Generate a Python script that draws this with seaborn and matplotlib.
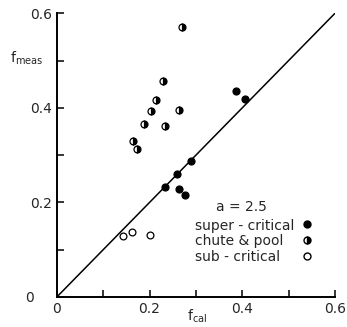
import matplotlib
matplotlib.use("Agg")
import matplotlib.pyplot as plt
from matplotlib.lines import Line2D
import pandas as pd
import seaborn as sns

# values
super_x = [0.387, 0.405, 0.289, 0.260, 0.234, 0.263, 0.276]
super_y = [0.436, 0.419, 0.287, 0.261, 0.232, 0.228, 0.215]
chute_x = [0.269, 0.230, 0.213, 0.203, 0.264, 0.188, 0.233, 0.165, 0.172]
chute_y = [0.571, 0.456, 0.417, 0.393, 0.396, 0.367, 0.361, 0.331, 0.313]
sub_x = [0.143, 0.163, 0.202]
sub_y = [0.128, 0.137, 0.130]
line_xy = [0.0, 0.6]
tick_vals = [0.0, 0.1, 0.2, 0.3, 0.4, 0.5, 0.6]
xtick_labels = ["0", "", "0.2", "", "0.4", "", "0.6"]
ytick_labels = ["0    ", "", "0.2", "", "0.4", "", "0.6"]
labels = ["super - critical", "chute & pool", "sub - critical"]

sns.set_style("ticks")
plt.rcParams["font.family"] = ["DejaVu Sans"]

W, H = 347, 327
fig = plt.figure(figsize=(W / 100, H / 100), dpi=100)
ax = fig.add_axes([0.164, 0.092, 0.801, 0.867])

sup = pd.DataFrame({"x": super_x, "y": super_y})
sub = pd.DataFrame({"x": sub_x, "y": sub_y})

ax.plot(line_xy, line_xy, color="black", lw=1.1)
sns.scatterplot(data=sup, x="x", y="y", ax=ax, color="black", s=26,
                edgecolor="black", linewidth=0.8, legend=False, zorder=3)
sns.scatterplot(data=sub, x="x", y="y", ax=ax, color="white", s=24,
                edgecolor="black", linewidth=0.9, legend=False, zorder=3)
ax.plot(chute_x, chute_y, linestyle="none", marker="o", markersize=5,
        fillstyle="right", markerfacecolor="black", markerfacecoloralt="white",
        markeredgecolor="black", markeredgewidth=0.9, zorder=3)

ax.set_xlim(0, 0.6)
ax.set_ylim(0, 0.6)
ax.set_xticks(tick_vals)
ax.set_xticklabels(xtick_labels)
ax.set_yticks(tick_vals)
ax.set_yticklabels(ytick_labels)
ax.tick_params(direction="in", length=5, width=1.1, labelsize=10, color="black")
ax.tick_params(axis="x", pad=4)
for s in ["top", "right"]:
    ax.spines[s].set_visible(False)
for s in ["left", "bottom"]:
    ax.spines[s].set_linewidth(1.4)
    ax.spines[s].set_color("black")

ax.set_xlabel("")
ax.set_ylabel("")
fig.text(197 / W, 1 - 316 / H, "f$_{\\mathrm{cal}}$", ha="center", va="center", fontsize=10)
fig.text(27 / W, 1 - 58 / H, "f$_{\\mathrm{meas}}$", ha="center", va="center", fontsize=10)

# legend: title and labels left aligned, markers in their own column
fig.text(241 / W, 1 - 207 / H, "a = 2.5", ha="center", va="center", fontsize=10)
row_y = [226, 241, 257]
for lab, yy in zip(labels, row_y):
    fig.text(195 / W, 1 - yy / H, lab, ha="left", va="center", fontsize=10)

handles = [
    Line2D([], [], linestyle="none", marker="o", markersize=5, color="black"),
    Line2D([], [], linestyle="none", marker="o", markersize=5, fillstyle="right",
           markerfacecolor="black", markerfacecoloralt="white", markeredgecolor="black"),
    Line2D([], [], linestyle="none", marker="o", markersize=5, markerfacecolor="white",
           markeredgecolor="black"),
]
leg = fig.legend(handles, ["", "", ""], frameon=False, fontsize=10, loc="center",
                 bbox_to_anchor=(307 / W, 1 - 241 / H), handlelength=1.0,
                 handletextpad=0.0, labelspacing=0.12, borderpad=0.0)

fig.savefig("out.png", dpi=100)
